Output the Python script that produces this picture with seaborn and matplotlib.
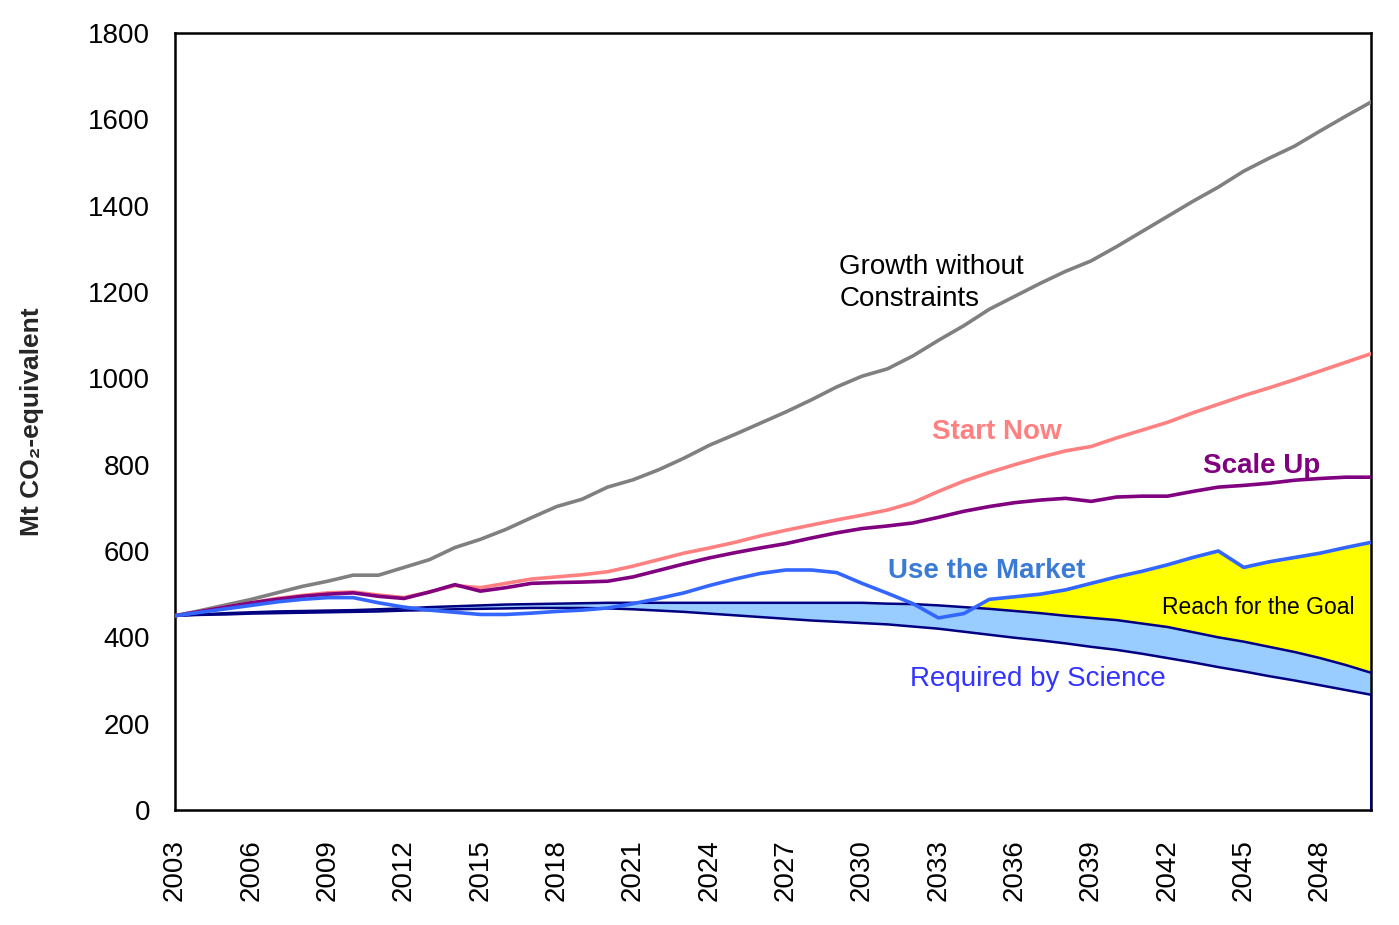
import numpy as np
import pandas as pd
import matplotlib
matplotlib.use("Agg")
import matplotlib.pyplot as plt
import seaborn as sns

# ---------------- data ----------------
years = list(range(2003, 2051))

growth = [450, 462, 475, 488, 503, 518, 530, 544, 544, 562, 580, 608, 627, 650, 677, 703,
          720, 748, 765, 788, 815, 845, 870, 896, 922, 950, 980, 1005, 1022, 1052, 1088,
          1122, 1160, 1190, 1220, 1248, 1272, 1305, 1340, 1375, 1410, 1443, 1480, 1510,
          1538, 1573, 1607, 1640]

start_now = [450, 460, 470, 480, 490, 497, 503, 505, 498, 492, 505, 520, 515, 525, 535, 540,
             545, 552, 565, 580, 595, 607, 620, 635, 648, 660, 672, 683, 695, 712, 738,
             762, 782, 800, 817, 832, 842, 862, 880, 898, 920, 940, 960, 978, 997, 1017,
             1037, 1057]

scale_up = [450, 460, 470, 480, 488, 495, 500, 503, 495, 490, 505, 522, 507, 515, 525, 527,
            528, 530, 540, 555, 570, 584, 596, 607, 617, 630, 642, 652, 658, 665, 678,
            692, 703, 712, 718, 722, 715, 725, 727, 727, 738, 748, 752, 757, 764, 768,
            771, 771]

use_market = [450, 458, 466, 474, 482, 488, 492, 492, 480, 470, 463, 458, 453, 453, 456, 460,
              463, 468, 478, 490, 503, 520, 535, 548, 556, 556, 550, 525, 502, 478, 445,
              455, 488, 494, 500, 510, 525, 540, 553, 568, 585, 600, 562, 575, 585, 595,
              608, 620]

goal_top = [450, 453, 456, 458, 460, 461, 462, 463, 465, 467, 470, 472, 474, 476, 477, 478,
            479, 480, 480, 480, 480, 480, 480, 480, 480, 480, 480, 480, 478, 477, 474,
            470, 466, 461, 456, 450, 445, 440, 432, 424, 412, 400, 390, 378, 366, 352,
            336, 318]

science = [450, 452, 453, 455, 456, 457, 458, 459, 460, 462, 463, 465, 466, 467, 468, 468,
           468, 467, 465, 462, 459, 455, 451, 447, 443, 439, 436, 433, 430, 425, 420,
           413, 406, 399, 393, 386, 378, 371, 362, 352, 342, 331, 321, 310, 300, 289,
           278, 267]

y_ticks = [0, 200, 400, 600, 800, 1000, 1200, 1400, 1600, 1800]
x_label_years = list(range(2003, 2049, 3))

# ---------------- style ----------------
sns.set_theme(style="white")
plt.rcParams["font.family"] = ["Liberation Sans", "DejaVu Sans"]

GREY = "#808080"
PINK = "#FF8080"
PURPLE = "#800080"
BLUE = "#3366FF"
NAVY = "#000080"
LIGHTBLUE = "#99CCFF"
YELLOW = "#FFFF00"

fig = plt.figure(figsize=(13.99, 9.25), dpi=100)
ax = fig.add_axes([175 / 1399, 1 - 810 / 925, (1371 - 175) / 1399, (810 - 33) / 925])

yrs = np.array(years)
top = np.array(goal_top)
mkt = np.array(use_market)
sci = np.array(science)

# fills
ax.fill_between(yrs, sci, top, color=LIGHTBLUE, linewidth=0, zorder=1)
ax.fill_between(yrs, top, mkt, where=(yrs >= 2034) & (mkt >= top), interpolate=True,
                color=YELLOW, linewidth=0, zorder=1)

# lines
sns.lineplot(x=years, y=science, ax=ax, color=NAVY, linewidth=1.8, zorder=3)
sns.lineplot(x=years, y=goal_top, ax=ax, color=NAVY, linewidth=1.8, zorder=3)
ax.vlines(years[-1], 0, science[-1], color=NAVY, linewidth=2.2, zorder=3)
sns.lineplot(x=years, y=growth, ax=ax, color=GREY, linewidth=2.6, zorder=4)
sns.lineplot(x=years, y=start_now, ax=ax, color=PINK, linewidth=2.6, zorder=4)
sns.lineplot(x=years, y=scale_up, ax=ax, color=PURPLE, linewidth=2.6, zorder=4)
sns.lineplot(x=years, y=use_market, ax=ax, color=BLUE, linewidth=2.6, zorder=5)

# axes
ax.set_xlim(2003, 2050)
ax.set_ylim(0, 1800)
ax.set_yticks(y_ticks)
ax.set_yticklabels([str(v) for v in y_ticks], fontsize=20)
ax.set_xticks(years)
ax.set_xticklabels([str(y) if y in x_label_years else "" for y in years],
                   rotation=90, fontsize=20)
ax.tick_params(axis="y", direction="out", length=8, width=1.8, pad=10, colors="black")
ax.tick_params(axis="x", direction="out", length=11, width=1.8, pad=10, colors="black")
for s in ax.spines.values():
    s.set_color("black")
    s.set_linewidth(1.8)
    s.set_visible(True)
ax.grid(False)
ax.set_xlabel("")
ax.set_ylabel("Mt CO\u2082-equivalent", fontsize=19, fontweight="bold", labelpad=32)

# annotations
ax.text(2029.1, 1222, "Growth without\nConstraints", fontsize=20, color="black",
        ha="left", va="center", linespacing=1.3, zorder=6)
ax.text(2035.3, 876, "Start Now", fontsize=20, fontweight="bold", color=PINK,
        ha="center", va="center", zorder=6)
ax.text(2045.7, 797, "Scale Up", fontsize=20, fontweight="bold", color=PURPLE,
        ha="center", va="center", zorder=6)
ax.text(2034.9, 554, "Use the Market", fontsize=20, fontweight="bold", color="#3A7BD5",
        ha="center", va="center", zorder=6)
ax.text(2045.55, 468, "Reach for the Goal", fontsize=16.5, color="black",
        ha="center", va="center", zorder=6)
ax.text(2036.9, 303, "Required by Science", fontsize=20, color="#3333FF",
        ha="center", va="center", zorder=6)

fig.savefig("out.png", dpi=100)
